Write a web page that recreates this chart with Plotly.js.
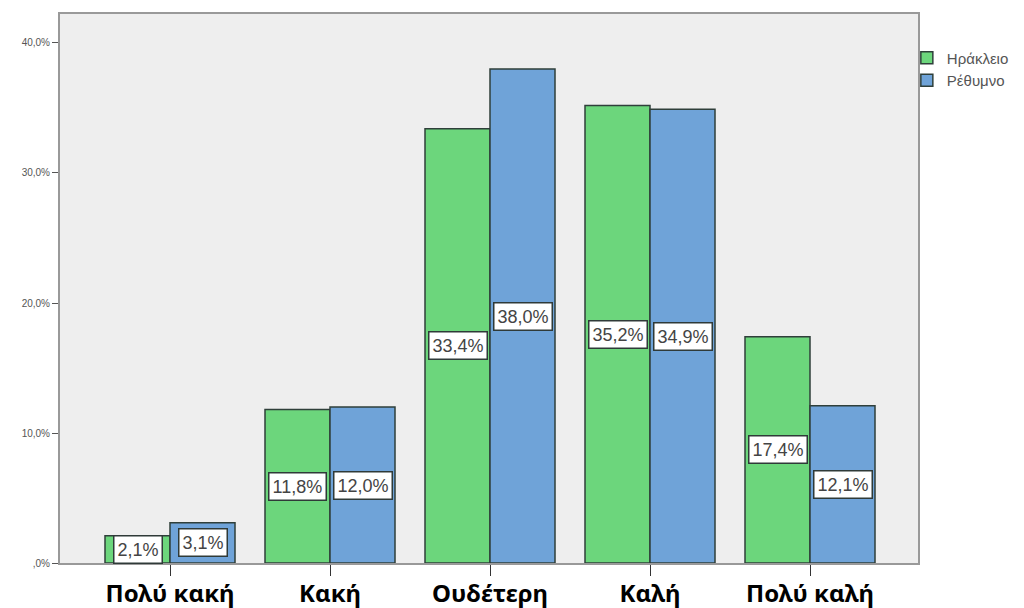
<!DOCTYPE html>
<html>
<head>
<meta charset="utf-8">
<script src="https://cdn.plot.ly/plotly-3.0.1.min.js"></script>
<style>html,body{margin:0;padding:0;background:#fff;}#chart{width:1024px;height:608px;}</style>
</head>
<body>
<div id="chart"></div>
<script>
var categories = ["Πολύ κακή", "Κακή", "Ουδέτερη", "Καλή", "Πολύ καλή"];
var seriesNames = ["Ηράκλειο", "Ρέθυμνο"];
var heraklion = [2.1, 11.8, 33.4, 35.2, 17.4];
var rethymno = [3.1, 12.0, 38.0, 34.9, 12.1];
var yTickVals = [0, 10, 20, 30, 40];
var yTickText = [",0%", "10,0%", "20,0%", "30,0%", "40,0%"];

function fmt(v){ return v.toFixed(1).replace('.', ',') + '%'; }

var colors = ['#6cd67c', '#6fa3d8'];
var data = [heraklion, rethymno].map(function(vals, k){
  return {
    type: 'bar', name: seriesNames[k], x: categories, y: vals,
    marker: {color: colors[k], line: {color: '#2f3f3a', width: 1.5}},
    hoverinfo: 'none'
  };
});

var annotations = [];
[heraklion, rethymno].forEach(function(vals, k){
  vals.forEach(function(v, i){
    annotations.push({
      xref: 'x', yref: 'y', x: categories[i], y: v / 2,
      xshift: k === 0 ? -32.5 : 32.5,
      text: fmt(v), showarrow: false,
      bgcolor: '#ffffff', bordercolor: '#2f3a38', borderwidth: 1.5, borderpad: 3,
      font: {family: 'Arial, Liberation Sans, sans-serif', size: 18, color: '#444'}
    });
  });
});

var layout = {
  width: 1024, height: 608,
  margin: {l: 60, r: 106, t: 14, b: 45, autoexpand: false},
  paper_bgcolor: '#ffffff', plot_bgcolor: '#eeeeee',
  barmode: 'group', bargap: 0.1875, bargroupgap: 0,
  showlegend: true,
  legend: {x: 0.987, y: 0.95, xanchor: 'left', yanchor: 'top', bgcolor: 'rgba(0,0,0,0)',
    font: {family: 'Arial, Liberation Sans, sans-serif', size: 15, color: '#555'},
    itemwidth: 30, tracegroupgap: 0},
  xaxis: {
    range: [-0.6875, 4.675], showgrid: false, zeroline: false,
    showline: true, linecolor: '#999', linewidth: 2, mirror: true,
    ticks: 'outside', ticklen: 11, tickcolor: '#333', tickwidth: 1,
    ticklabelstandoff: -3,
    tickfont: {family: 'Noto Sans, Liberation Sans, sans-serif', size: 24, color: '#000', weight: 'bold'}
  },
  yaxis: {
    range: [0, 42.23], showgrid: false, zeroline: false,
    showline: true, linecolor: '#999', linewidth: 2, mirror: true,
    tickvals: yTickVals, ticktext: yTickText,
    ticks: 'outside', ticklen: 6, tickcolor: '#555', tickwidth: 1,
    tickfont: {family: 'Arial, Liberation Sans, sans-serif', size: 10, color: '#555'}
  },
  annotations: annotations
};

Plotly.newPlot('chart', data, layout, {displayModeBar: false, staticPlot: true});
</script>
</body>
</html>
